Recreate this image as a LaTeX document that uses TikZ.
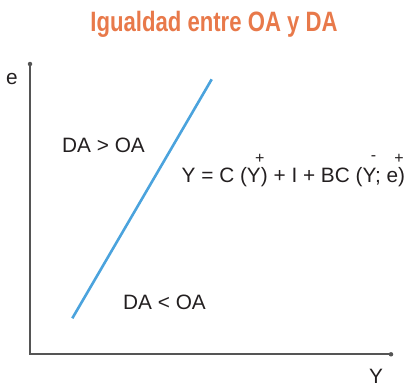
\documentclass[tikz,border=0pt]{standalone}
\usepackage{fontspec}
\setmainfont{Liberation Sans}
\definecolor{titleorange}{HTML}{E8794A}
\definecolor{lineblue}{HTML}{4BA3DD}
\definecolor{axisgray}{HTML}{555555}
\definecolor{txt}{HTML}{231F20}
\begin{document}
\begin{tikzpicture}[x=1pt,y=-1pt,
  lbl/.style={inner sep=0pt, text=txt, font=\fontsize{20.8}{22}\selectfont},
  sgn/.style={inner sep=0pt, text=txt, font=\fontsize{16}{17}\selectfont},
  axis/.style={draw=axisgray, line width=2.2pt},
  enddot/.style={circle, fill=axisgray, inner sep=0pt, minimum size=4.5pt}]
\useasboundingbox (0,0) rectangle (410,383);
% title
\node[inner sep=0pt, anchor=base, text=titleorange] (title) at (214,31.5)
  {\scalebox{0.79}[1]{\fontsize{28}{30}\selectfont\bfseries Igualdad entre OA y DA}};
% axes
\coordinate (origin) at (30,354.3);
\coordinate (ytop) at (30,64);
\coordinate (xend) at (391,354.3);
\draw[axis] (ytop) -- (origin) -- (xend);
\node[enddot] (ydot) at (ytop) {};
\node[enddot] (xdot) at (xend) {};
% blue line
\coordinate (ls) at (72.3,318.3);
\coordinate (le) at (211.7,79.3);
\draw[lineblue, line width=2.6pt] (ls) -- (le);
% axis labels
\node[lbl, anchor=base] (elbl) at (11.8,84.5) {e};
\node[lbl, anchor=base] (Ylbl) at (376,383.5) {Y};
% regions
\node[lbl, anchor=base west] (above) at (62,152.7) {DA > OA};
\node[lbl, anchor=base west] (below) at (123,309) {DA < OA};
% equation
\node[lbl, anchor=base west] (eq) at (181.5,182.7) {Y = C (Y) + I + BC (Y; e)};
\node[sgn] (p1) at (259.8,158.5) {+};
\node[sgn] (m1) at (373.5,158.5) {-};
\node[sgn] (p2) at (399,158.5) {+};
\end{tikzpicture}
\end{document}
